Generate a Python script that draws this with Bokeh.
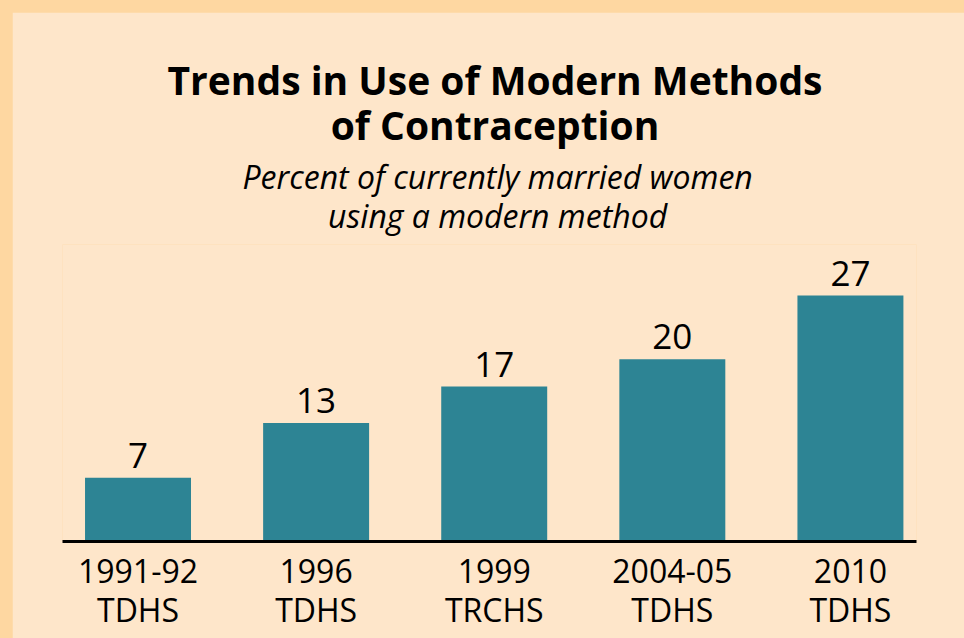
from bokeh.plotting import figure
from bokeh.layouts import column
from bokeh.models import Range1d, FixedTicker, Title, ColumnDataSource
from bokeh.core.properties import value
from bokeh.embed import file_html
from bokeh.resources import INLINE

surveys = ["1991-92\nTDHS", "1996\nTDHS", "1999\nTRCHS", "2004-05\nTDHS", "2010\nTDHS"]
percent = [7, 13, 17, 20, 27]
labels = ["7", "13", "17", "20", "27"]

BG = "#FEE6CA"
EDGE = "#FED7A1"
BAR = "#2D8494"
FONT = "Open Sans"

xs = list(range(len(surveys)))
src = ColumnDataSource(dict(x=xs, top=percent, label=labels))

p = figure(width=952, height=626, output_backend="svg", toolbar_location=None,
           x_range=Range1d(-0.424, 4.371), y_range=Range1d(0, 32.6),
           min_border_left=50, min_border_right=48, min_border_bottom=97, min_border_top=0)
p.margin = (12, 0, 0, 12)
p.background_fill_color = BG
p.border_fill_color = BG
p.outline_line_color = None
p.grid.visible = False
p.yaxis.visible = False

p.vbar(x="x", top="top", bottom=0, width=0.595, source=src, fill_color=BAR, line_color=None)
p.text(x="x", y="top", text="label", source=src, text_align="center", text_baseline="bottom",
       y_offset=-10, text_font=value(FONT), text_font_size="35px", text_color="black")

ax = p.xaxis[0]
ax.ticker = FixedTicker(ticks=xs)
ax.major_label_overrides = {i: s for i, s in enumerate(surveys)}
ax.axis_line_width = 3
ax.axis_line_color = "black"
ax.major_tick_line_color = None
ax.minor_tick_line_color = None
ax.major_tick_out = 0
ax.major_tick_in = 0
ax.minor_tick_out = 0
ax.major_label_text_font = FONT
ax.major_label_text_font_size = "32px"
ax.major_label_text_line_height = 0.92
ax.major_label_text_color = "black"
ax.major_label_standoff = 7

sub = Title(text="Percent of currently married women\nusing a modern method", align="left", offset=180,
            text_font=FONT, text_font_size="32px", text_font_style="italic",
            text_line_height=0.92, text_color="black", standoff=14)
ttl = Title(text="\nTrends in Use of Modern Methods\nof Contraception", align="left", offset=105,
            text_font=FONT, text_font_size="39px", text_font_style="bold",
            text_line_height=0.85, text_color="black", standoff=0)
for t in (sub, ttl):
    try:
        t.text_align = "center"
    except Exception:
        pass
try:
    ttl.standoff = -12
except Exception:
    pass
p.add_layout(sub, "above")
p.add_layout(ttl, "above")

page = column(p, styles={"background-color": EDGE})
open("out.html", "w").write(file_html(page, INLINE))
